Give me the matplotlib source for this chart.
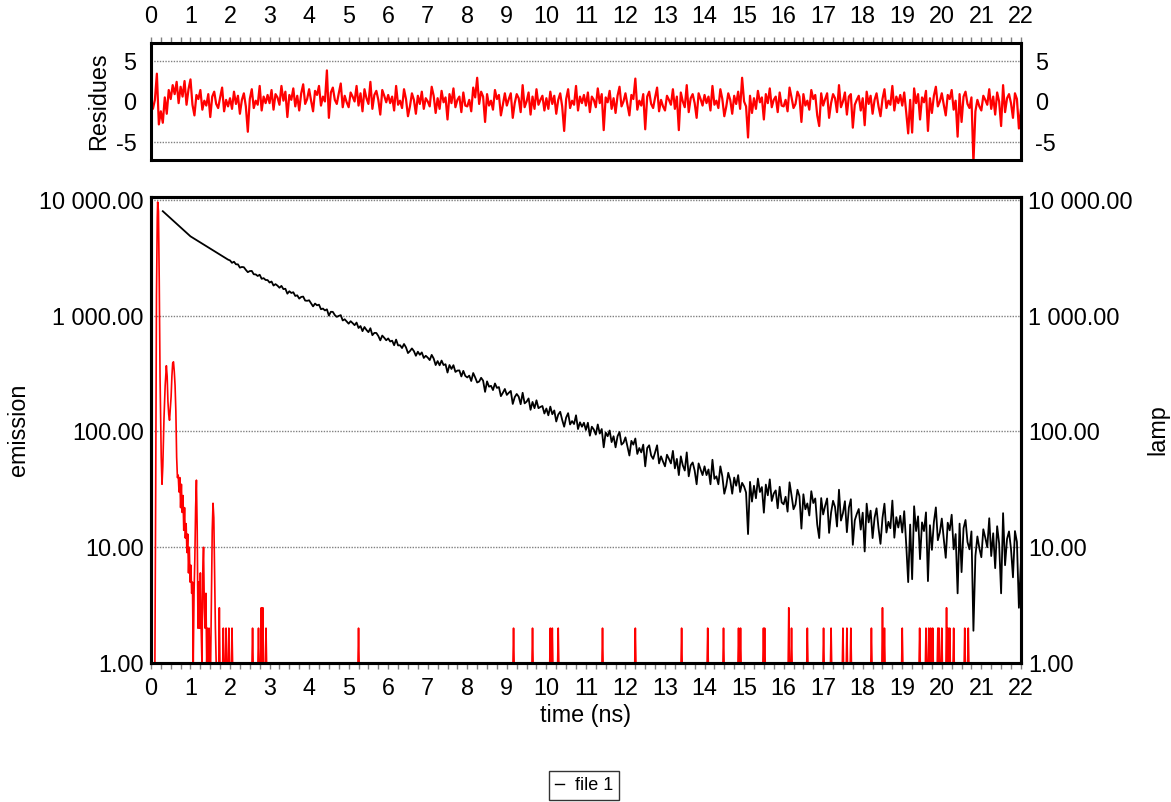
import numpy as np
import matplotlib
matplotlib.use("Agg")
import matplotlib.pyplot as plt
from matplotlib.ticker import FixedLocator, MultipleLocator, NullLocator, FuncFormatter
from matplotlib.lines import Line2D

plt.rcParams['font.family'] = ['Liberation Sans', 'DejaVu Sans']
plt.rcParams['axes.unicode_minus'] = False

# time channels (ns), 0.05 ns apart
emission_t = np.round(np.arange(6, 441) * 0.05, 2)
residual_t = np.round(np.arange(0, 441) * 0.05, 2)

# emission counts, 0.30 ns .. 22.00 ns
emission = [
    8000, 7720, 7450, 7190, 6935, 6690, 6460, 6230, 6010, 5800, 5600, 5400, 5210, 5030,
    4850, 4733, 4619, 4508, 4400, 4294, 4190, 4090, 3991, 3895, 3801, 3710, 3621, 3534, 3449, 3366, 3285, 3206, 3129, 3053,
    3004, 2865, 2927, 2782, 2779, 2603, 2639, 2625, 2490, 2379, 2432, 2438, 2281, 2275, 2205, 2260, 2085, 2112, 2036, 2033,
    1935, 1975, 1823, 1875, 1820, 1745, 1811, 1698, 1711, 1551, 1628, 1573, 1596, 1482, 1501, 1406, 1454, 1464, 1352, 1346,
    1360, 1278, 1204, 1274, 1231, 1246, 1138, 1153, 1111, 1136, 1003, 1082, 1080, 1013, 978, 997, 1012, 910, 932, 892,
    854, 897, 864, 829, 873, 784, 815, 736, 799, 754, 721, 780, 679, 711, 710, 669, 613, 674, 645, 614,
    637, 599, 609, 556, 622, 554, 556, 526, 570, 533, 476, 495, 522, 495, 451, 489, 460, 482, 432, 451,
    435, 414, 459, 427, 375, 406, 373, 410, 375, 381, 323, 375, 347, 374, 327, 336, 337, 299, 334, 302,
    293, 304, 273, 320, 293, 265, 270, 291, 275, 220, 271, 244, 248, 228, 260, 238, 242, 202, 216, 233,
    207, 216, 224, 173, 198, 211, 200, 172, 216, 175, 181, 193, 154, 180, 159, 186, 159, 163, 166, 143,
    158, 138, 164, 141, 152, 122, 140, 148, 126, 110, 132, 144, 115, 123, 116, 138, 105, 120, 110, 119,
    103, 119, 92, 110, 104, 94, 115, 96, 105, 73, 98, 91, 102, 81, 91, 73, 91, 99, 77, 80,
    89, 74, 62, 83, 77, 87, 64, 72, 66, 77, 50, 72, 76, 62, 58, 66, 76, 53, 61, 55,
    50, 63, 58, 53, 68, 48, 58, 42, 61, 51, 46, 66, 41, 51, 54, 46, 35, 53, 47, 42,
    50, 42, 47, 35, 57, 39, 41, 35, 50, 41, 29, 34, 44, 38, 29, 40, 34, 42, 30, 36,
    33.5, 29.7, 13, 36.7, 24.8, 34.0, 26.5, 39.2, 30.0, 33.1, 19.9, 34.8, 28.1, 38.6, 25.1, 29.1, 31.0, 21.7, 33.3, 24.4,
    23.5, 27.3, 20.3, 36.4, 28.1, 21.3, 23.4, 31.4, 27.6, 14.5, 28.7, 21.3, 23.9, 18.8, 30.5, 24.1, 26.4, 15.7, 12, 26.6,
    19.2, 22.8, 26.4, 13.3, 19.9, 25.2, 22.3, 15.1, 31.4, 17.0, 19.7, 25.0, 13.5, 22.0, 26, 10.5, 17.1, 19.4, 21.4, 14.2,
    19.9, 9.2, 23.8, 16.4, 20.7, 12.0, 18.0, 21.7, 14.6, 10.7, 17.9, 23.8, 13.4, 16.6, 14.6, 25.3, 12.1, 18.2, 14.8, 18.7,
    13.4, 20.5, 10.6, 5.0, 15.7, 5.3, 22.6, 13.8, 18.5, 7.9, 16.4, 13.8, 20.0, 5.1, 15.5, 9.5, 16.5, 22.1, 11.5, 13.4,
    17.7, 11.8, 8.1, 16.3, 14.0, 19.1, 9.6, 13.0, 4.0, 16.0, 6.1, 14.6, 17.2, 11.1, 9.6, 13.7, 1.9, 8.4, 12.4, 9.8,
    8.2, 14.3, 12.1, 10.0, 17.8, 8.4, 13.2, 6.6, 15.2, 10.8, 4.0, 19.7, 7.0, 11.8, 13.7, 9.7, 5.5, 13.8, 11.1, 3.0,
    7.3,
]

# weighted residues, 0.00 ns .. 22.00 ns
residues = [
    -0.3, -0.9, 0.2, 3.4, -2.8, -1.2, -2.6, 0.5, -1.5, 1.4, 0.3, 2.0, 0.9, 2.4, -0.2, 1.8, 0.6, 2.5, -0.4, 1.5,
    2.7, -0.4, -1.7, 0.8, 0.3, 1.4, -1.0, 0.1, -0.5, 0.9, -1.9, 0.6, 1.2, -0.3, -0.8, 0.5, 1.7, -1.2, 0.2, -0.6,
    0.4, -0.9, 1.2, -0.3, 0.7, -1.5, 0.2, 1.0, -0.6, -3.7, 0.3, 1.5, -0.8, 0.1, -0.4, 1.9, -1.1, 0.6, -0.2, 0.8,
    -0.2, 1.4, -1.0, 0.9, 0.5, -0.4, 1.9, 0.1, 1.2, -1.9, 0.8, 0.2, 1.6, -0.6, 0.7, -1.1, 1.0, 2.1, -0.3, 0.3,
    1.5, 0.1, -1.2, 1.3, 0.8, 1.9, -0.5, 0.6, 0.0, 3.8, -2.0, 1.1, 1.7, 0.2, -0.3, 1.0, 2.2, -0.7, 0.7, -0.1,
    -0.7, 1.1, 0.6, 0.0, 1.9, -0.5, 1.0, -1.2, 1.5, 0.4, -0.3, 2.4, -0.9, 0.8, 1.3, 0.2, -1.6, 1.4, 0.7, -0.1,
    0.8, -0.2, 0.6, -1.1, 1.9, -0.4, 0.1, -0.8, 1.5, 0.3, -1.8, -0.6, 1.0, 0.2, -1.5, 0.7, -0.3, 1.2, -0.9, 0.4,
    0.0, -0.6, 1.8, 0.7, -1.4, 0.4, -0.9, 1.3, -0.1, 0.5, -2.2, 0.9, -0.2, 1.6, -0.7, 0.2, 0.6, -1.3, 1.1, -0.5,
    -0.6, 0.2, -1.2, 1.7, 0.5, 2.9, -0.3, 1.2, 0.6, -2.5, 0.9, -0.5, 0.1, -1.0, 1.4, 0.3, 0.8, -1.7, -0.4, 1.0,
    -0.5, 0.3, 1.0, -2.0, -0.2, 0.9, 0.4, -1.3, 2.0, -0.7, 0.0, 1.1, -1.6, 0.6, -0.9, 1.5, -0.4, 0.2, 0.7, -1.1,
    0.4, -0.9, 1.2, -0.3, 0.7, -1.5, 0.2, 1.0, -0.6, -3.6, 0.3, 1.5, -0.8, 0.1, -0.4, 1.9, -1.1, 0.6, -0.2, 0.8,
    -0.5, 1.1, -1.3, 0.6, 0.2, -0.7, 1.6, -0.2, 0.9, -3.5, 0.5, -0.1, 1.3, -0.9, 0.4, -1.4, 0.7, 1.8, -0.6, 0.0,
    1.0, -0.4, -1.7, 0.8, 0.3, 2.8, -1.0, 0.1, -0.5, 0.9, -3.4, 0.6, 1.2, -0.3, -0.8, 0.5, 1.7, -1.2, 0.2, -0.6,
    -1.1, 0.7, 0.2, -0.4, 1.5, -0.9, 0.6, -3.5, 1.1, 0.0, -0.7, 2.0, -1.3, 0.4, 0.9, -0.2, -2.0, 1.0, 0.3, -0.5,
    0.8, -0.2, 0.6, -1.1, 1.9, -0.4, 0.1, -0.8, 1.5, 0.3, -1.8, -0.6, 1.0, 0.2, -1.5, 0.7, -0.3, 1.2, -0.9, 2.9,
    0.0, -0.6, -4.4, 0.7, -1.4, 0.4, -0.9, 1.3, -0.1, 0.5, -2.2, 0.9, -0.2, 1.6, -0.7, 0.2, 0.6, -1.3, 1.1, -0.5,
    -0.6, 0.2, -1.2, 1.7, 0.5, -0.8, -0.3, 1.2, 0.6, -2.5, 0.9, -0.5, 0.1, -1.0, 1.4, 0.3, 0.8, -1.7, -3.0, 1.0,
    -0.5, 0.3, 1.0, -2.0, -0.2, 0.9, 0.4, -1.3, 2.0, -0.7, 0.0, 1.1, -1.6, 0.6, 0.9, -3.2, -0.4, 0.2, 0.7, -1.1,
    0.4, -2.9, 1.2, -0.3, 0.7, -1.5, 0.2, 1.0, -0.6, -1.8, 0.3, 1.5, -0.8, 0.1, -0.4, 1.9, -1.1, 0.6, -0.2, 0.8,
    -0.5, 1.1, -1.3, -3.9, 0.2, -3.8, 1.6, -0.2, 0.9, -2.2, 0.5, -0.1, 1.3, -3.6, 0.4, -1.4, 0.7, 1.8, -0.6, 0.0,
    1.0, -0.4, -1.7, 0.8, 0.3, 1.4, -1.0, 0.1, -4.3, 0.9, -2.5, 0.6, 1.2, -0.3, -0.8, 0.5, -7.5, -1.2, 0.2, -0.6,
    -1.1, 0.7, 0.2, -0.4, 1.5, -0.9, 0.6, -1.6, 1.1, 0.0, -3.0, 2.0, -1.3, 0.4, 0.9, -0.2, -2.0, 1.0, 0.3, -3.3,
    -1.0,
]

# lamp pulse (instrument response), counts
lamp_t = [0.00, 0.10, 0.12, 0.14, 0.16, 0.17, 0.19, 0.21, 0.23, 0.26, 0.28, 0.30, 0.33, 0.36, 0.39,
          0.41, 0.43, 0.45, 0.47, 0.49, 0.51, 0.53, 0.55, 0.57, 0.59, 0.61, 0.63, 0.65, 0.67, 0.69,
          0.71, 0.73, 0.75, 0.77, 0.79, 0.81, 0.83, 0.85, 0.87, 0.89, 0.91, 0.93, 0.95, 0.97, 0.99,
          1.01, 1.03, 1.05, 1.07, 1.09, 1.11, 1.13, 1.15, 1.17, 1.19, 1.21, 1.23, 1.25, 1.27, 1.29,
          1.31, 1.33, 1.35, 1.37, 1.39, 1.41, 1.43, 1.45, 1.47, 1.49, 1.51, 1.53, 1.55, 1.57, 1.59,
          1.61, 1.63, 1.65, 1.68]
lamp_counts = [1, 1, 30, 1500, 7000, 9600, 8000, 2000, 300, 60, 35, 50, 130, 250, 370,
               300, 180, 140, 125, 160, 200, 300, 390, 400, 330, 250, 150, 60, 40, 42,
               30, 40, 22, 35, 20, 28, 14, 22, 12, 16, 9, 13, 6, 10, 5,
               7, 4, 5, 1, 4, 8, 22, 38, 14, 2, 5, 2, 6, 2, 1,
               6, 10, 3, 2, 4, 1, 2, 1, 2, 1, 1, 4, 14, 24, 18,
               6, 2, 1, 1]

# isolated lamp counts after the pulse
spike_t = [1.73, 1.83, 1.90, 1.97, 2.05, 2.57, 2.72, 2.79, 2.83, 2.91, 5.25, 9.17, 9.65, 10.10,
           10.15, 10.30, 11.42, 12.25, 13.42, 14.08, 14.48, 14.86, 14.91, 15.49, 15.52, 16.13,
           16.20, 16.60, 17.01, 17.20, 17.50, 17.60, 17.70, 18.22, 18.50, 18.55, 19.00, 19.44,
           19.60, 19.67, 19.72, 19.77, 19.90, 19.93, 20.00, 20.12, 20.16, 20.20, 20.30, 20.58, 20.67]
spike_counts = [3, 2, 2, 2, 2, 2, 2, 3, 3, 2, 2, 2, 2, 2,
                2, 2, 2, 2, 2, 2, 2, 2, 2, 2, 2, 3,
                2, 2, 2, 2, 2, 2, 2, 2, 3, 2, 2, 2,
                2, 2, 2, 2, 2, 2, 2, 3, 2, 2, 2, 2, 2]

pts = list(zip(lamp_t, lamp_counts))
for t, c in zip(spike_t, spike_counts):
    pts += [(t - 0.015, 1), (t, c), (t + 0.015, 1)]
pts.append((22.0, 1))
pts.sort()
lamp_x = [p[0] for p in pts]
lamp_y = [p[1] for p in pts]

fs = 16.8
gray = '#808080'

fig = plt.figure(figsize=(11.71, 8.02), dpi=100)
ax_res = fig.add_axes([0.1289, 0.8005, 0.7429, 0.1459])
ax = fig.add_axes([0.1289, 0.1733, 0.7429, 0.5810])
ax2 = ax.twinx()

# residues panel
ax_res.plot(residual_t, residues, color='#ff0000', lw=1.6)
ax_res.set_xlim(0, 22)
ax_res.set_ylim(-7.15, 7.15)
ax_res.set_yticks([-5, 0, 5])
for y in [-5, 5]:
    ax_res.axhline(y, color=gray, lw=1.0, ls=(0, (1, 1)), zorder=0)
ax_res.xaxis.set_major_locator(MultipleLocator(1))
ax_res.xaxis.set_minor_locator(MultipleLocator(0.25))
ax_res.tick_params(axis='x', which='both', top=True, bottom=False, labeltop=True, labelbottom=False,
                   direction='out', color=gray, length=4, width=1, labelsize=fs, pad=7)
ax_res.tick_params(axis='y', which='both', left=False, right=False, labelleft=True, labelright=True,
                   labelsize=fs, pad=7)
ax_res.set_ylabel('Residues', fontsize=fs, labelpad=4)

# main panel
ax.plot(emission_t, emission, color='black', lw=1.3)
ax2.plot(lamp_x, lamp_y, color='#ff0000', lw=1.2)

fmt = FuncFormatter(lambda v, p: f"{v:,.2f}".replace(",", " "))
for a in (ax, ax2):
    a.set_yscale('log')
    a.set_ylim(1, 10600)
    a.yaxis.set_major_locator(FixedLocator([1, 10, 100, 1000, 10000]))
    a.yaxis.set_minor_locator(NullLocator())
    a.yaxis.set_major_formatter(fmt)
    a.tick_params(axis='y', which='both', length=0, labelsize=fs, pad=5)
ax.set_xlim(0, 22)
for y in [1, 10, 100, 1000, 10000]:
    ax.axhline(y, color=gray, lw=1.0, ls=(0, (1, 1)), zorder=0)
ax.xaxis.set_major_locator(MultipleLocator(1))
ax.xaxis.set_minor_locator(MultipleLocator(0.25))
ax.tick_params(axis='x', which='both', direction='out', color=gray, length=4, width=1,
               labelsize=fs, pad=6)
ax.set_xlabel('time (ns)', fontsize=fs, labelpad=3)
ax.set_ylabel('emission', fontsize=fs, labelpad=7)
ax2.set_ylabel('lamp', fontsize=fs, labelpad=10)

for a in (ax_res, ax, ax2):
    for s in a.spines.values():
        s.set_linewidth(2.2)
        s.set_color('black')

leg = fig.legend(handles=[Line2D([], [], color='black', lw=1.0)], labels=['file 1'],
                 loc='lower center', bbox_to_anchor=(0.4987, 0.0), frameon=True, fancybox=False,
                 edgecolor='black', fontsize=13, handlelength=0.5, handletextpad=0.6,
                 borderpad=0.35, borderaxespad=0.1)
leg.get_frame().set_linewidth(1.0)

fig.savefig('out.png', dpi=100)
